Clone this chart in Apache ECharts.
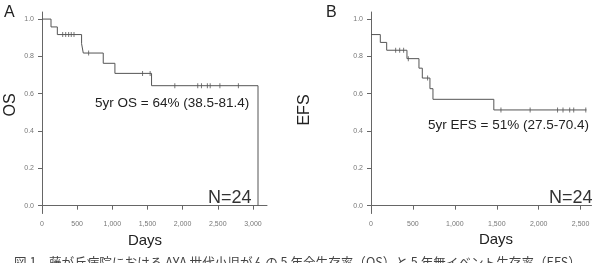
<!DOCTYPE html>
<html>
<head>
<meta charset="utf-8">
<script src="https://cdn.jsdelivr.net/npm/echarts@6/dist/echarts.min.js"></script>
<style>
  html, body { margin: 0; padding: 0; background: #fff; }
  #chart { width: 595px; height: 263px; }
</style>
</head>
<body>
<div id="chart"></div>
<script>
// Panel A: overall survival (step curve), days vs survival probability
const osSteps = [
  [0, 1.0], [128, 0.958], [218, 0.917], [563, 0.868], [587, 0.818],
  [871, 0.763], [1037, 0.709], [1558, 0.643], [3072, 0.643], [3072, 0]
]
const osCensored = [
  [294, 0.917], [337, 0.917], [379, 0.917], [416, 0.917], [455, 0.917],
  [663, 0.818], [1430, 0.709], [1538, 0.709],
  [1889, 0.643], [2215, 0.643], [2268, 0.643], [2352, 0.643], [2392, 0.643],
  [2530, 0.643], [2793, 0.643]
]

// Panel B: event-free survival
const efsSteps = [
  [0, 0.917], [111, 0.875], [187, 0.833], [429, 0.788], [572, 0.737],
  [612, 0.684], [703, 0.627], [739, 0.57], [1465, 0.513], [2570, 0.513]
]
const efsCensored = [
  [294, 0.833], [342, 0.833], [389, 0.833], [445, 0.788], [675, 0.684],
  [1550, 0.513], [1898, 0.513], [2225, 0.513], [2290, 0.513], [2370, 0.513],
  [2418, 0.513], [2562, 0.513]
]

const yTicks = [0, 0.2, 0.4, 0.6, 0.8, 1.0]
const xTicksA = [0, 500, 1000, 1500, 2000, 2500, 3000]
const xTicksB = [0, 500, 1000, 1500, 2000, 2500]

const lineColor = '#555'
const axisColor = '#666'
const tickFont = { fontSize: 7, color: '#777', fontFamily: 'Liberation Sans, Arial, sans-serif' }

function xAxisFor(gridIndex, max, ticks) {
  return {
    type: 'value', gridIndex, min: 0, max,
    axisLine: { show: true, lineStyle: { color: axisColor, width: 1 } },
    axisTick: { show: true, length: 4, customValues: ticks, lineStyle: { color: axisColor } },
    axisLabel: {
      ...tickFont, margin: 7, customValues: ticks,
      formatter: v => v.toLocaleString('en-US')
    },
    splitLine: { show: false }
  }
}

function yAxisFor(gridIndex) {
  return {
    type: 'value', gridIndex, min: -0.042, max: 1.038,
    axisLine: { show: true, lineStyle: { color: axisColor, width: 1 } },
    axisTick: { show: true, length: 4, customValues: yTicks, lineStyle: { color: axisColor } },
    axisLabel: { ...tickFont, margin: 8, customValues: yTicks, formatter: v => v.toFixed(1) },
    splitLine: { show: false }
  }
}

function stepSeries(idx, data) {
  return {
    type: 'line', xAxisIndex: idx, yAxisIndex: idx, data, step: 'end',
    showSymbol: false, silent: true,
    lineStyle: { color: lineColor, width: 1 }
  }
}

function censorSeries(idx, data) {
  return {
    type: 'scatter', xAxisIndex: idx, yAxisIndex: idx, data,
    symbol: 'rect', symbolSize: [1, 5], silent: true,
    itemStyle: { color: lineColor }
  }
}

const labelFont = 'Liberation Sans, Arial, sans-serif'

function txt(x, y, text, size, extra) {
  return {
    type: 'text', x, y,
    style: {
      text, fontSize: size, fontFamily: labelFont, fill: '#222',
      textAlign: 'left', textVerticalAlign: 'middle', ...(extra || {})
    }
  }
}

const chart = echarts.init(document.getElementById('chart'))
chart.setOption({
  animation: false,
  grid: [
    { left: 42, top: 12, width: 225, height: 201.5 },
    { left: 371, top: 12, width: 220.5, height: 201.5 }
  ],
  xAxis: [xAxisFor(0, 3200, xTicksA), xAxisFor(1, 2630, xTicksB)],
  yAxis: [yAxisFor(0), yAxisFor(1)],
  series: [
    stepSeries(0, osSteps), censorSeries(0, osCensored),
    stepSeries(1, efsSteps), censorSeries(1, efsCensored)
  ],
  graphic: [
    txt(4, 13, 'A', 16),
    txt(326, 13, 'B', 16),
    { ...txt(11, 105, 'OS', 16, { textAlign: 'center' }), rotation: Math.PI / 2 },
    { ...txt(305, 110, 'EFS', 16, { textAlign: 'center' }), rotation: Math.PI / 2 },
    txt(145, 241, 'Days', 15, { textAlign: 'center' }),
    txt(496, 240, 'Days', 15, { textAlign: 'center' }),
    txt(95, 103, '5yr OS = 64% (38.5-81.4)', 13.5),
    txt(428, 125, '5yr EFS = 51% (27.5-70.4)', 13.5),
    txt(208, 198, 'N=24', 18, { fill: '#333' }),
    txt(549, 198, 'N=24', 18, { fill: '#333' }),
    txt(14, 262, '図 1　藤が丘病院における AYA 世代小児がんの 5 年全生存率（OS）と 5 年無イベント生存率（EFS）', 12.6,
      { fontFamily: '"Noto Sans CJK JP", sans-serif', fill: '#444' })
  ]
})
</script>
</body>
</html>
